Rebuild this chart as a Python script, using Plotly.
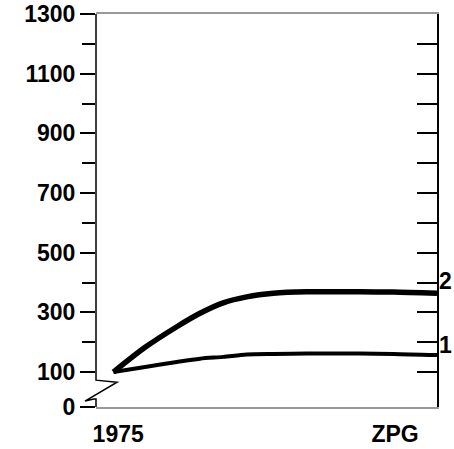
import plotly.graph_objects as go

# Data (x on an abstract 0-100 scale from 1975 to beyond ZPG)
x_pts = [5.1, 14.4, 23.7, 30.5, 37.3, 44.2, 52.0, 61.8, 77.4, 87.2, 100.0]
series2 = [100, 183, 252, 297, 332, 352, 364, 369, 369, 368, 364]
series1 = [100, 117, 134, 145, 151, 159, 161, 162, 162, 161, 157]

x_tickvals = [6.5, 87.7]
x_ticktext = ["1975", "ZPG"]

y_min, y_max = -17, 1300
y_tickvals = [-17, 100, 300, 500, 700, 900, 1100, 1300]
y_ticktext = ["0", "100", "300", "500", "700", "900", "1100", "1300"]
y_minor = [200, 400, 600, 800, 1000, 1200]
y_right_ticks = [100, 200, 300, 400, 500, 600, 700, 800, 900, 1000, 1100, 1200]

FONT = dict(family="Liberation Sans, Arial, sans-serif", size=23, color="black", weight="bold")

fig = go.Figure()
fig.add_trace(go.Scatter(x=x_pts, y=series2, mode="lines",
                         line=dict(color="black", width=5.5, shape="spline", smoothing=0.8),
                         showlegend=False, cliponaxis=False, hoverinfo="skip"))
fig.add_trace(go.Scatter(x=x_pts, y=series1, mode="lines",
                         line=dict(color="black", width=4, shape="spline", smoothing=0.8),
                         showlegend=False, cliponaxis=False, hoverinfo="skip"))
# dummy trace for right axis
fig.add_trace(go.Scatter(x=[None], y=[None], yaxis="y2", showlegend=False))


def py(v):
    return (v - y_min) / (y_max - y_min)

# left axis line with break zigzag
path = (f"M 0,{py(y_max)} L 0,{py(73)} L 0.0616,{py(66)} L -0.0323,{py(3)} "
        f"L -0.006,{py(10)} L 0,{py(10)} L 0,{py(y_min)}")
shapes = [dict(type="path", xref="paper", yref="paper", path=path,
               line=dict(color="black", width=1.5))]

fig.update_layout(
    template="none",
    width=454, height=449,
    margin=dict(l=96, r=17, t=14, b=42, autoexpand=False),
    plot_bgcolor="white", paper_bgcolor="white",
    font=FONT,
    xaxis=dict(range=[0, 100], tickvals=x_tickvals, ticktext=x_ticktext,
               ticks="", showgrid=False, zeroline=False, automargin=False,
               showline=True, linecolor="#999999", linewidth=1.5, mirror=True,
               ticklabelstandoff=6, tickfont=FONT),
    yaxis=dict(range=[y_min, y_max], tickvals=y_tickvals, ticktext=y_ticktext,
               ticks="outside", ticklen=15, tickwidth=1.5, tickcolor="black",
               minor=dict(tickvals=y_minor, ticks="outside", ticklen=13,
                          tickwidth=1.5, tickcolor="black"),
               showgrid=False, zeroline=False, showline=False, automargin=False,
               ticklabelstandoff=0, tickfont=FONT),
    yaxis2=dict(range=[y_min, y_max], overlaying="y", side="right",
                tickvals=y_right_ticks, ticks="inside", ticklen=20, tickwidth=1.5,
                tickcolor="black", showticklabels=False, showgrid=False,
                automargin=False,
                zeroline=False, showline=True, linecolor="black", linewidth=1.5),
    shapes=shapes,
    annotations=[
        dict(xref="paper", x=1, y=series2[-1], yref="y", text="2", showarrow=False,
             xanchor="left", xshift=0, yshift=12, font=FONT),
        dict(xref="paper", x=1, y=series1[-1], yref="y", text="1", showarrow=False,
             xanchor="left", xshift=0, yshift=10, font=FONT),
    ],
)

fig.write_html("out.html", config={"displayModeBar": False},
               post_script="document.body.style.margin='0';document.body.style.overflow='hidden';")
